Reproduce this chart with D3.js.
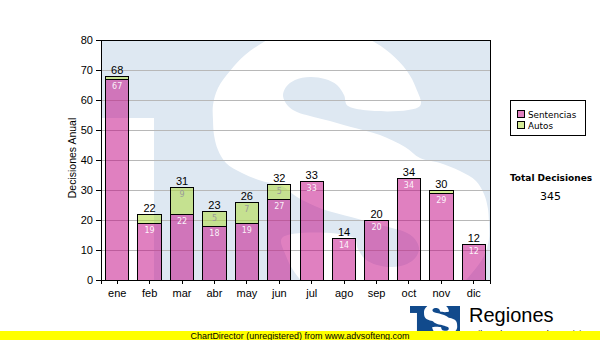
<!DOCTYPE html>
<html>
<head>
<meta charset="utf-8">
<script src="https://cdn.jsdelivr.net/npm/d3@7"></script>
<style>
  html, body { margin: 0; padding: 0; background: #fff; }
  svg { display: block; }
</style>
</head>
<body>
<svg id="chart" width="600" height="340"></svg>
<script>
// Monthly decisions, split by type
const months = ["ene", "feb", "mar", "abr", "may", "jun", "jul", "ago", "sep", "oct", "nov", "dic"];
const sentencias = [67, 19, 22, 18, 19, 27, 33, 14, 20, 34, 29, 12];
const autos = [1, 3, 9, 5, 7, 5, 0, 0, 0, 0, 1, 0];
const yTicks = [0, 10, 20, 30, 40, 50, 60, 70, 80];
const seriesNames = ["Sentencias", "Autos"];

const seriesFill = ["rgba(193,1,129,0.5)", "rgba(171,217,45,0.5)"];
const seriesLabelFill = ["rgba(255,255,255,0.92)", "#9a9a9a"];
const fontSans = "'Liberation Sans', Arial, sans-serif";
const fontVerdana = "'DejaVu Sans', Verdana, sans-serif";

const svg = d3.select("#chart");
const plot = { left: 101, top: 40, right: 490, bottom: 280 };

const x = d3.scaleBand().domain(months)
  .range([plot.left, plot.right]).paddingInner(0.28).paddingOuter(0.14);
const y = d3.scaleLinear().domain([0, 80]).range([plot.bottom, plot.top]);

const rows = months.map((m, i) => ({ m, s: sentencias[i], a: autos[i], t: sentencias[i] + autos[i] }));

// ---- emblem outline (a point-symmetric "S"), in emblem units ----
const halfS = [
  [250, 87], [229, 81], [209, 76], [196, 72], [187, 66], [182, 56], [185, 47], [194, 40],
  [209, 37], [224, 39], [236, 45], [243, 55], [247, 66], [319, 66], [315, 48], [306, 31],
  [289, 13], [266, -2], [239, -12], [214, -16], [189, -12], [166, 0], [144, 15], [129, 31],
  [117, 48], [112, 65], [112, 80], [113, 95], [117, 110], [125, 123], [141, 133], [161, 141],
  [181, 146], [196, 157], [221, 169], [250, 177]
];
const fullS = halfS.concat(halfS.slice(1, -1).map(([px, py]) => [500 - px, 264 - py]));
const sPath = d3.line().curve(d3.curveCatmullRomClosed.alpha(0.5))(fullS);

function drawEmblem(g) {
  g.append("rect").attr("x", -60).attr("y", 78).attr("width", 113).attr("height", 400).attr("fill", "#fff");
  g.append("path").attr("d", sPath).attr("fill", "#fff");
}

const defs = svg.append("defs");
defs.append("clipPath").attr("id", "plotClip")
  .append("rect").attr("x", plot.left).attr("y", plot.top)
  .attr("width", plot.right - plot.left).attr("height", plot.bottom - plot.top);
defs.append("clipPath").attr("id", "logoClip")
  .append("rect").attr("x", 410).attr("y", 306).attr("width", 50).attr("height", 34);

// plot background with watermark emblem
svg.append("rect").attr("x", plot.left).attr("y", plot.top)
  .attr("width", plot.right - plot.left).attr("height", plot.bottom - plot.top)
  .attr("fill", "#dee8f2");
const wm = svg.append("g").attr("clip-path", "url(#plotClip)")
  .append("g").attr("transform", `translate(${plot.left},${plot.top})`);
drawEmblem(wm);

// horizontal grid
svg.append("g").selectAll("line")
  .data(yTicks.filter(v => v > 0 && v < 80))
  .join("line")
  .attr("x1", plot.left).attr("x2", plot.right)
  .attr("y1", d => y(d)).attr("y2", d => y(d))
  .attr("stroke", "#b8b8b8").attr("shape-rendering", "crispEdges");

// stacked bars
const barG = svg.append("g");
const bars = barG.selectAll("g").data(rows).join("g");
bars.append("rect")
  .attr("x", d => x(d.m)).attr("width", x.bandwidth())
  .attr("y", d => y(d.s)).attr("height", d => y(0) - y(d.s))
  .attr("fill", seriesFill[0]).attr("stroke", "#000").attr("shape-rendering", "crispEdges");
bars.filter(d => d.a > 0).append("rect")
  .attr("x", d => x(d.m)).attr("width", x.bandwidth())
  .attr("y", d => y(d.t)).attr("height", d => y(d.s) - y(d.t))
  .attr("fill", seriesFill[1]).attr("stroke", "#000").attr("shape-rendering", "crispEdges");

// values inside segments (only where the segment is tall enough)
bars.filter(d => y(0) - y(d.s) >= 12).append("text")
  .attr("x", d => x(d.m) + x.bandwidth() / 2).attr("y", d => y(d.s) + 10)
  .attr("text-anchor", "middle").attr("font-family", fontVerdana).attr("font-size", 8)
  .attr("fill", seriesLabelFill[0]).text(d => d.s);
bars.filter(d => y(d.s) - y(d.t) >= 12).append("text")
  .attr("x", d => x(d.m) + x.bandwidth() / 2).attr("y", d => y(d.t) + 10)
  .attr("text-anchor", "middle").attr("font-family", fontVerdana).attr("font-size", 8)
  .attr("fill", seriesLabelFill[1]).text(d => d.a);

// totals above bars
bars.append("text")
  .attr("x", d => x(d.m) + x.bandwidth() / 2).attr("y", d => y(d.t) - 2.5)
  .attr("text-anchor", "middle").attr("font-family", fontSans).attr("font-size", 11)
  .attr("fill", "#000").text(d => d.t);

// plot frame
svg.append("rect").attr("x", plot.left).attr("y", plot.top)
  .attr("width", plot.right - plot.left).attr("height", plot.bottom - plot.top)
  .attr("fill", "none").attr("stroke", "#000").attr("shape-rendering", "crispEdges");

// axes
const yAxis = svg.append("g").attr("transform", `translate(${plot.left},0)`)
  .call(d3.axisLeft(y).tickValues(yTicks).tickSize(5).tickPadding(3).tickFormat(d3.format("d")));
const xAxis = svg.append("g").attr("transform", `translate(0,${plot.bottom})`)
  .call(d3.axisBottom(x).tickSize(4).tickPadding(5));
[yAxis, xAxis].forEach(a => {
  a.select(".domain").attr("stroke", "#000").attr("shape-rendering", "crispEdges");
  a.selectAll(".tick line").attr("stroke", "#000").attr("shape-rendering", "crispEdges");
  a.selectAll(".tick text").attr("font-family", fontSans).attr("font-size", 11).attr("fill", "#000");
});

// y axis title
svg.append("text")
  .attr("transform", "translate(76,158) rotate(-90)")
  .attr("text-anchor", "middle").attr("font-family", fontSans).attr("font-size", 10.5)
  .attr("fill", "#000").text("Decisiones Anual");

// legend
const lg = svg.append("g");
lg.append("rect").attr("x", 510.5).attr("y", 100.5).attr("width", 75).attr("height", 35)
  .attr("fill", "#fff").attr("stroke", "#000").attr("shape-rendering", "crispEdges");
seriesNames.forEach((name, i) => {
  lg.append("rect").attr("x", 517.5).attr("y", 110.5 + i * 11).attr("width", 7).attr("height", 7)
    .attr("fill", seriesFill[i]).attr("stroke", "#000").attr("shape-rendering", "crispEdges");
  lg.append("text").attr("x", 528).attr("y", 117.5 + i * 11)
    .attr("font-family", fontVerdana).attr("font-size", 8.8).attr("fill", "#000").text(name);
});

// grand total
svg.append("text").attr("x", 551).attr("y", 181).attr("text-anchor", "middle")
  .attr("font-family", fontVerdana).attr("font-weight", "bold").attr("font-size", 9)
  .attr("fill", "#000").text("Total Decisiones");
svg.append("text").attr("x", 550.5).attr("y", 200).attr("text-anchor", "middle")
  .attr("font-family", fontVerdana).attr("font-size", 11)
  .attr("fill", "#000").text(d3.sum(rows, d => d.t));

// emblem + name in the footer
const logo = svg.append("g").attr("clip-path", "url(#logoClip)");
logo.append("rect").attr("x", 410).attr("y", 306).attr("width", 50).attr("height", 34).attr("fill", "#114a8c");
drawEmblem(logo.append("g").attr("transform", "translate(410.6,303.6) scale(0.12)"));
svg.append("text").attr("x", 469).attr("y", 322).attr("font-family", fontSans).attr("font-size", 20)
  .attr("fill", "#000").text("Regiones");
svg.append("text").attr("x", 470).attr("y", 337).attr("font-family", fontSans).attr("font-size", 9)
  .attr("fill", "#000").text("Tribunal Supremo de Justicia");

// vendor strip
svg.append("rect").attr("x", 0).attr("y", 331).attr("width", 600).attr("height", 9).attr("fill", "#ffff00");
svg.append("text").attr("x", 300).attr("y", 339).attr("text-anchor", "middle")
  .attr("font-family", fontSans).attr("font-size", 9).attr("textLength", 219).attr("lengthAdjust", "spacingAndGlyphs")
  .attr("fill", "#000").text("ChartDirector (unregistered) from www.advsofteng.com");
</script>
</body>
</html>
